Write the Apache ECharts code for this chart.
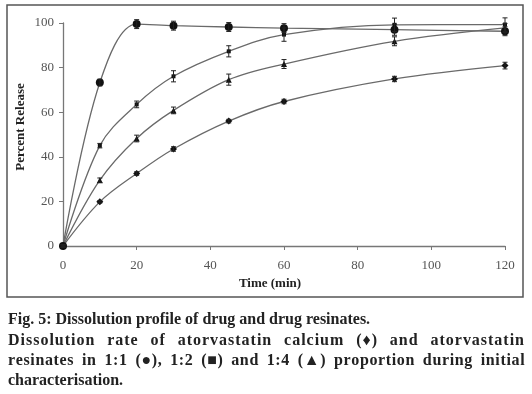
<!DOCTYPE html>
<html>
<head>
<meta charset="utf-8">
<script src="https://cdn.jsdelivr.net/npm/echarts@6/dist/echarts.min.js"></script>
<style>html,body{margin:0;padding:0;background:#fff;}#c{width:532px;height:394px;}</style>
</head>
<body>
<div id="c"></div>
<script>
// ---- data ----
const times = [0, 10, 20, 30, 45, 60, 90, 120];
const resinate11 = [0, 73.3, 99.5, 98.8, 98.2, 97.7, 97.0, 96.3];
const resinate11Err = [0.5, 1.5, 2, 2, 2, 2, 2.5, 2];
const resinate12 = [0, 45.0, 63.5, 76.1, 87.3, 94.8, 99.2, 99.3];
const resinate12Err = [0.5, 1, 1.5, 2.5, 2.5, 3, 3, 3];
const resinate14 = [0, 29.5, 48.2, 60.8, 74.6, 81.6, 91.8, 97.8];
const resinate14Err = [0.5, 1, 1.5, 1.5, 2.5, 2, 2, 2];
const drugAC = [0, 19.8, 32.5, 43.5, 56.0, 64.8, 74.9, 80.9];
const drugACErr = [0.5, 0.5, 0.8, 1, 0.8, 1, 1.2, 1.5];
const xTicks = [0, 20, 40, 60, 80, 100, 120];
const yTicks = [0, 20, 40, 60, 80, 100];
const captionLines = [
  "Fig. 5: Dissolution profile of drug and drug resinates.",
  "Dissolution rate of atorvastatin calcium (\u2666) and atorvastatin",
  "resinates in 1:1 (\u25CF), 1:2 (\u25A0) and 1:4 (\u25B2) proportion during initial",
  "characterisation."
];

const chart = echarts.init(document.getElementById('c'), null, {renderer: 'canvas'});
const pairs = (ys) => times.map((t, i) => [t, ys[i]]);
const errPairs = (ys, es) => times.map((t, i) => [t, ys[i], es[i]]);
const LINE = '#6a6a6a';

function lineSeries(name, ys, symbol, size) {
  return {
    name, type: 'line', data: pairs(ys), smooth: 0.35,
    symbol, symbolSize: size,
    lineStyle: {color: LINE, width: 1.3},
    itemStyle: {color: '#111', borderWidth: 0},
    z: 3
  };
}
function errSeries(ys, es) {
  return {
    type: 'custom', data: errPairs(ys, es), z: 4, silent: true,
    renderItem: function (params, api) {
      const x = api.value(0), y = api.value(1), e = api.value(2);
      const lo = api.coord([x, y - e]);
      const hi = api.coord([x, y + e]);
      const w = 2.5;
      const st = {stroke: '#222', lineWidth: 1};
      return {type: 'group', children: [
        {type: 'line', shape: {x1: lo[0], y1: lo[1], x2: hi[0], y2: hi[1]}, style: st},
        {type: 'line', shape: {x1: lo[0] - w, y1: lo[1], x2: lo[0] + w, y2: lo[1]}, style: st},
        {type: 'line', shape: {x1: hi[0] - w, y1: hi[1], x2: hi[0] + w, y2: hi[1]}, style: st}
      ]};
    }
  };
}

// caption layout (justified lines spread letter by letter, measured on a canvas)
const capFamily = "'Liberation Serif', serif";
const capWeight = "bold ";
const capColor = '#222';
const mctx = document.createElement('canvas').getContext('2d');
mctx.font = capWeight + "100px " + capFamily;
const fs = 100 * 362 / mctx.measureText(captionLines[0]).width;
const capFont = capWeight + fs.toFixed(2) + "px " + capFamily;
mctx.font = capFont;
const capLeft = 8, capRight = 524;
const capY = [320, 341, 361, 381];
const graphics = [
  {type: 'rect', shape: {x: 7, y: 5, width: 516, height: 292}, style: {fill: 'none', stroke: '#555', lineWidth: 1.5}},
  {type: 'text', x: 270, y: 284, style: {text: 'Time (min)', font: "bold 13px 'Liberation Serif', serif", fill: '#222', align: 'center', verticalAlign: 'middle'}},
  {type: 'text', x: 21, y: 127, rotation: Math.PI / 2, style: {text: 'Percent Release', font: "bold 13px 'Liberation Serif', serif", fill: '#222', align: 'center', verticalAlign: 'middle'}}
];
captionLines.forEach((line, li) => {
  const justify = (li === 1 || li === 2);
  if (!justify) {
    graphics.push({type: 'text', x: capLeft, y: capY[li], style: {text: line, font: capFont, fill: capColor, verticalAlign: 'middle'}});
  } else {
    const chars = Array.from(line);
    const widths = chars.map(c => mctx.measureText(c).width);
    const natural = mctx.measureText(line).width;
    const spaces = chars.filter(c => c === ' ').length;
    const extra = capRight - capLeft - natural;
    const letterShare = extra * 0.55 / (chars.length - 1);
    const wordShare = extra * 0.45 / spaces;
    let x = capLeft;
    chars.forEach((c, i) => {
      if (c !== ' ') {
        graphics.push({type: 'text', x: x, y: capY[li], style: {text: c, font: capFont, fill: capColor, verticalAlign: 'middle'}});
      }
      x += widths[i] + letterShare + (c === ' ' ? wordShare : 0);
    });
  }
});

chart.setOption({
  animation: false,
  backgroundColor: '#fff',
  grid: {left: 63, right: 27, top: 23, bottom: 148},
  xAxis: {
    type: 'value', min: 0, max: 120, interval: 20,
    axisLine: {lineStyle: {color: '#777', width: 1.3}},
    axisTick: {show: true, inside: false, length: 4, lineStyle: {color: '#777'}},
    axisLabel: {color: '#555', fontFamily: "'Liberation Serif', serif", fontSize: 13, margin: 13},
    splitLine: {show: false}
  },
  yAxis: {
    type: 'value', min: 0, max: 100, interval: 20,
    axisLine: {show: true, lineStyle: {color: '#777', width: 1.3}},
    axisTick: {show: true, inside: false, length: 4, lineStyle: {color: '#777'}},
    axisLabel: {color: '#555', fontFamily: "'Liberation Serif', serif", fontSize: 13, margin: 9},
    splitLine: {show: false}
  },
  series: [
    lineSeries('1:1', resinate11, 'circle', 8),
    errSeries(resinate11, resinate11Err),
    lineSeries('1:2', resinate12, 'rect', 4),
    errSeries(resinate12, resinate12Err),
    lineSeries('1:4', resinate14, 'triangle', 6),
    errSeries(resinate14, resinate14Err),
    lineSeries('drug', drugAC, 'diamond', 7),
    errSeries(drugAC, drugACErr)
  ],
  graphic: graphics
});
</script>
</body>
</html>
